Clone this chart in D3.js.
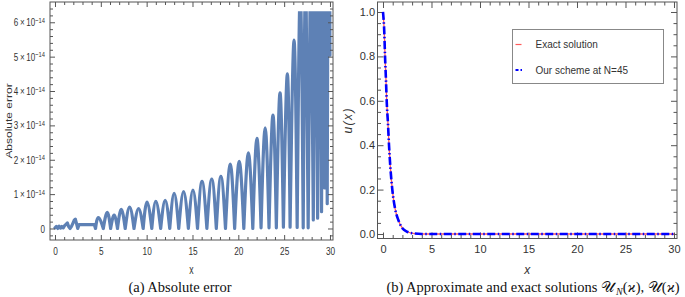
<!DOCTYPE html>
<html>
<head>
<meta charset="utf-8">
<script src="https://cdn.jsdelivr.net/npm/d3@7"></script>
<style>
  body { margin: 0; background: #fff; }
  svg { display: block; }
  text { font-family: "Liberation Sans", Arial, sans-serif; fill: #333; }
  .cap { font-family: "Liberation Serif", "DejaVu Serif", serif; fill: #111; }
</style>
</head>
<body>
<script>
// ---- panel (a): absolute error, values in units of 1e-14
// small noisy part near the origin
var noiseX = [0, 0.15, 0.3, 0.45, 0.6, 0.75, 0.9, 1.05, 1.2, 1.35, 1.5, 1.65, 1.8, 1.95, 2.1, 2.22, 2.35, 2.48, 2.62, 4.3, 4.42];
var noiseY = [0.02, 0.06, 0.0, 0.07, 0.01, 0.06, 0.02, 0.08, 0.12, 0.16, 0.05, 0.0, 0.06, 0.15, 0.24, 0.27, 0.14, 0.0, 0.11, 0.11, 0.0];

// the arches: valleys and the peaks between them
var valleyX = [4.42, 5.27, 6.07, 6.82, 7.66, 8.62, 9.62, 10.56, 11.53, 12.52, 13.5, 14.55, 15.55, 16.57, 17.6, 18.6, 19.6,
               20.6, 21.58, 22.48, 23.35, 24.15, 24.92, 25.65, 26.42, 27.08, 27.62, 28.18, 28.65, 29.08, 29.42, 29.7, 30.0];
var valleyY = [0, 0, 0, 0, 0, 0, 0, 0, 0, 0, 0, 0, 0, 0, 0, 0, 0,
               0, 0, 0.02, 0.02, 0.02, 0.04, 0.04, 0.03, 0.02, 0.02, 0.25, 0.3, 0.49, 1.18, 0.72, 5.04];
var peakX = [4.73, 5.7, 6.45, 7.23, 8.14, 9.12, 10.04, 11.0, 12.02, 13.0, 14.03, 15.05, 16.04, 17.1, 18.1, 19.12,
             20.1, 21.1, 22.03, 22.93, 23.78, 24.55, 25.35, 26.08, 26.76, 27.36, 27.9, 28.42, 28.88, 29.26, 29.56, 29.85];
var peakY = [0.32, 0.47, 0.39, 0.56, 0.62, 0.58, 0.77, 0.79, 0.82, 1.02, 1.07, 1.12, 1.37, 1.44, 1.52, 1.87,
             1.95, 2.2, 2.62, 2.93, 3.3, 3.95, 4.5, 5.48, 6.9, 7.8, 8.8, 9.8, 11, 12.2, 13.5, 15];
var errCap = 6.32;   // plot range top, peaks above are cut

var errTicks = [0, 1, 2, 3, 4, 5, 6];
var xTicks = [0, 5, 10, 15, 20, 25, 30];

// ---- panel (b): exact and approximate solutions
var solX    = [0, 0.14, 0.21, 0.31, 0.38, 0.51, 0.62, 0.76, 0.96, 1.24, 1.58, 2.0, 2.45, 3.1, 4.0, 30];
var exactU  = [1.0, 0.9, 0.8, 0.69, 0.6, 0.5, 0.4, 0.3, 0.2, 0.115, 0.063, 0.026, 0.011, 0.003, 0, 0];
var schemeU = [1.0, 0.9, 0.8, 0.69, 0.6, 0.5, 0.4, 0.3, 0.2, 0.115, 0.063, 0.026, 0.011, 0.003, 0, 0];
var uTicks = [0, 0.2, 0.4, 0.6, 0.8, 1.0];
var legendNames = ["Exact solution", "Our scheme at N=45"];

var width = 685, height = 297;
var squeeze = 0.72;   // panel (a) text is narrowed in the figure

var svg = d3.select("body").append("svg")
    .attr("width", width)
    .attr("height", height);

// draws one side of a frame: major + minor ticks pointing inward
function side(g, axisFn, scale, major, minor, size, tr, fmt, pad) {
  var m = g.append("g").attr("transform", tr)
      .call(axisFn(scale).tickValues(minor).tickSizeInner(-size[1]).tickSizeOuter(0).tickFormat(""));
  m.select(".domain").remove();
  var a = g.append("g").attr("transform", tr)
      .call(axisFn(scale).tickValues(major).tickSizeInner(-size[0]).tickSizeOuter(0)
        .tickPadding(pad || 0).tickFormat(fmt || ""));
  a.select(".domain").remove();
  g.selectAll("line").attr("stroke", "#555");
  a.selectAll("text").attr("font-family", null).attr("font-size", null);
  return a;
}

function minorOf(dom, step, major) {
  var out = [];
  for (var v = Math.ceil(dom[0] / step) * step; v <= dom[1] + 1e-9; v += step) {
    var r = Math.round(v * 1000) / 1000;
    if (major.every(function(t) { return Math.abs(t - r) > 1e-6; })) out.push(r);
  }
  return out;
}

// ================= panel (a)
var fa = {left: 50, right: 333, top: 2, bottom: 240};
var xa = d3.scaleLinear().domain([-0.545, 30.33]).range([fa.left, fa.right]);
var ya = d3.scaleLinear().domain([-0.335, 6.59]).range([fa.bottom, fa.top]);
var ga = svg.append("g");

ga.append("clipPath").attr("id", "clipA")
  .append("rect")
    .attr("x", fa.left).attr("y", ya(errCap))
    .attr("width", fa.right - fa.left).attr("height", fa.bottom - ya(errCap));

var lineA = d3.line().x(function(d) { return xa(d[0]); }).y(function(d) { return ya(d[1]); });
var archA = d3.line().x(function(d) { return xa(d[0]); }).y(function(d) { return ya(d[1]); }).curve(d3.curveNatural);

var dA = lineA(noiseX.map(function(v, i) { return [v, noiseY[i]]; }));
peakX.forEach(function(p, i) {
  dA += archA([[valleyX[i], valleyY[i]], [p, peakY[i]], [valleyX[i + 1], valleyY[i + 1]]]);
});

ga.append("path")
    .attr("d", dA)
    .attr("clip-path", "url(#clipA)")
    .attr("fill", "none")
    .attr("stroke", "#5e81b5")
    .attr("stroke-width", 3.2)
    .attr("stroke-linejoin", "round")
    .attr("stroke-linecap", "round");

var xaMinor = minorOf(xa.domain(), 1, xTicks);
var yaMinor = minorOf(ya.domain(), 0.2, errTicks);
var bx = side(ga, d3.axisBottom, xa, xTicks, xaMinor, [5, 3], "translate(0," + fa.bottom + ")", d3.format("d"), 7);
side(ga, d3.axisTop, xa, xTicks, xaMinor, [5, 3], "translate(0," + fa.top + ")");
var ly = side(ga, d3.axisLeft, ya, errTicks, yaMinor, [5, 3], "translate(" + fa.left + ",0)", d3.format("d"), 7);
side(ga, d3.axisRight, ya, errTicks, yaMinor, [5, 3], "translate(" + fa.right + ",0)");

bx.selectAll("text").attr("font-size", 11.5).attr("transform", "scale(" + squeeze + ",1)");
ly.selectAll("text").attr("font-size", 11.2).attr("transform", "scale(" + squeeze + ",1)")
  .each(function(d) {
    var t = d3.select(this).text(null);
    if (d === 0) { t.text("0"); return; }
    t.append("tspan").text(d + "\u2009\u00d7\u200910");
    t.append("tspan").attr("dy", "-0.45em").attr("font-size", 8).text("\u221214");
  });

ga.append("rect")
    .attr("x", fa.left).attr("y", fa.top)
    .attr("width", fa.right - fa.left).attr("height", fa.bottom - fa.top)
    .attr("fill", "none").attr("stroke", "#555");

ga.append("text")
    .attr("transform", "translate(12," + (fa.top + fa.bottom) / 2 + ") scale(" + squeeze + ",1) rotate(-90)")
    .attr("text-anchor", "middle")
    .attr("font-size", 12)
    .text("Absolute error");
ga.append("text")
    .attr("transform", "translate(" + (fa.left + fa.right) / 2 + ",274) scale(" + squeeze + ",1)")
    .attr("text-anchor", "middle")
    .attr("font-size", 12)
    .text("x");
ga.append("text").attr("class", "cap")
    .attr("x", 180).attr("y", 292)
    .attr("text-anchor", "middle")
    .attr("font-size", 14.5)
    .text("(a) Absolute error");

// ================= panel (b)
var fb = {left: 377.5, right: 677, top: 2, bottom: 238.5};
var xb = d3.scaleLinear().domain([-0.567, 30.31]).range([fb.left, fb.right]);
var yb = d3.scaleLinear().domain([-0.0203, 1.045]).range([fb.bottom, fb.top]);
var gb = svg.append("g");

var xbMinor = minorOf(xb.domain(), 1, xTicks);
var ybMinor = minorOf(yb.domain(), 0.05, uTicks);
var bxb = side(gb, d3.axisBottom, xb, xTicks, xbMinor, [6, 3.5], "translate(0," + fb.bottom + ")", d3.format("d"), 7);
side(gb, d3.axisTop, xb, xTicks, xbMinor, [6, 3.5], "translate(0," + fb.top + ")");
var lyb = side(gb, d3.axisLeft, yb, uTicks, ybMinor, [6, 3.5], "translate(" + fb.left + ",0)", d3.format(".1f"), 2.5);
side(gb, d3.axisRight, yb, uTicks, ybMinor, [6, 3.5], "translate(" + fb.right + ",0)");
bxb.selectAll("text").attr("font-size", 11);
lyb.selectAll("text").attr("font-size", 11);

var lineB = d3.line()
    .x(function(d) { return xb(d[0]); })
    .y(function(d) { return yb(d[1]); })
    .curve(d3.curveMonotoneX);

gb.append("path")
    .attr("d", lineB(solX.map(function(v, i) { return [v, exactU[i]]; })))
    .attr("fill", "none")
    .attr("stroke", "#ff5a5a")
    .attr("stroke-width", 1.3);
gb.append("path")
    .attr("d", lineB(solX.map(function(v, i) { return [v, schemeU[i]]; })))
    .attr("fill", "none")
    .attr("stroke", "#0000ff")
    .attr("stroke-width", 2.6)
    .attr("stroke-dasharray", "8,2.5,1.5,2.5");

gb.append("rect")
    .attr("x", fb.left).attr("y", fb.top)
    .attr("width", fb.right - fb.left).attr("height", fb.bottom - fb.top)
    .attr("fill", "none").attr("stroke", "#555");

// legend
var lg = gb.append("g").attr("transform", "translate(512.5,29.5)");
lg.append("rect").attr("width", 151).attr("height", 54)
    .attr("fill", "#fff").attr("stroke", "#888");
lg.append("line").attr("x1", 3).attr("x2", 9).attr("y1", 15).attr("y2", 15)
    .attr("stroke", "#ff5a5a").attr("stroke-width", 1.2);
lg.append("line").attr("x1", 3).attr("x2", 11).attr("y1", 40.5).attr("y2", 40.5)
    .attr("stroke", "#0000ff").attr("stroke-width", 2.2).attr("stroke-dasharray", "3,2,1.5,2");
lg.selectAll("text.lg").data(legendNames).enter().append("text")
    .attr("class", "lg")
    .attr("x", 23)
    .attr("y", function(d, i) { return 18.5 + i * 26; })
    .attr("font-size", 10)
    .text(function(d) { return d; });

gb.append("text")
    .attr("transform", "translate(352," + (fb.top + fb.bottom) / 2 + ") rotate(-90)")
    .attr("text-anchor", "middle")
    .attr("font-size", 12)
    .attr("font-style", "italic")
    .attr("letter-spacing", 1.5)
    .text("u(x)");
gb.append("text")
    .attr("x", (fb.left + fb.right) / 2).attr("y", 274)
    .attr("text-anchor", "middle")
    .attr("font-size", 12)
    .attr("font-style", "italic")
    .text("x");

var capB = gb.append("text").attr("class", "cap")
    .attr("x", 533).attr("y", 292)
    .attr("text-anchor", "middle")
    .attr("font-size", 14.5);
capB.append("tspan").text("(b) Approximate and exact solutions ");
capB.append("tspan").text("\ud835\udcb0");
capB.append("tspan").attr("dx", 1).attr("dy", 3).attr("font-size", 10).attr("font-style", "italic").text("N");
capB.append("tspan").attr("dy", -3).text("(");
capB.append("tspan").attr("font-style", "italic").text("\u03f0");
capB.append("tspan").text("), ");
capB.append("tspan").text("\ud835\udcb0");
capB.append("tspan").text("(");
capB.append("tspan").attr("font-style", "italic").text("\u03f0");
capB.append("tspan").text(")");
</script>
</body>
</html>
